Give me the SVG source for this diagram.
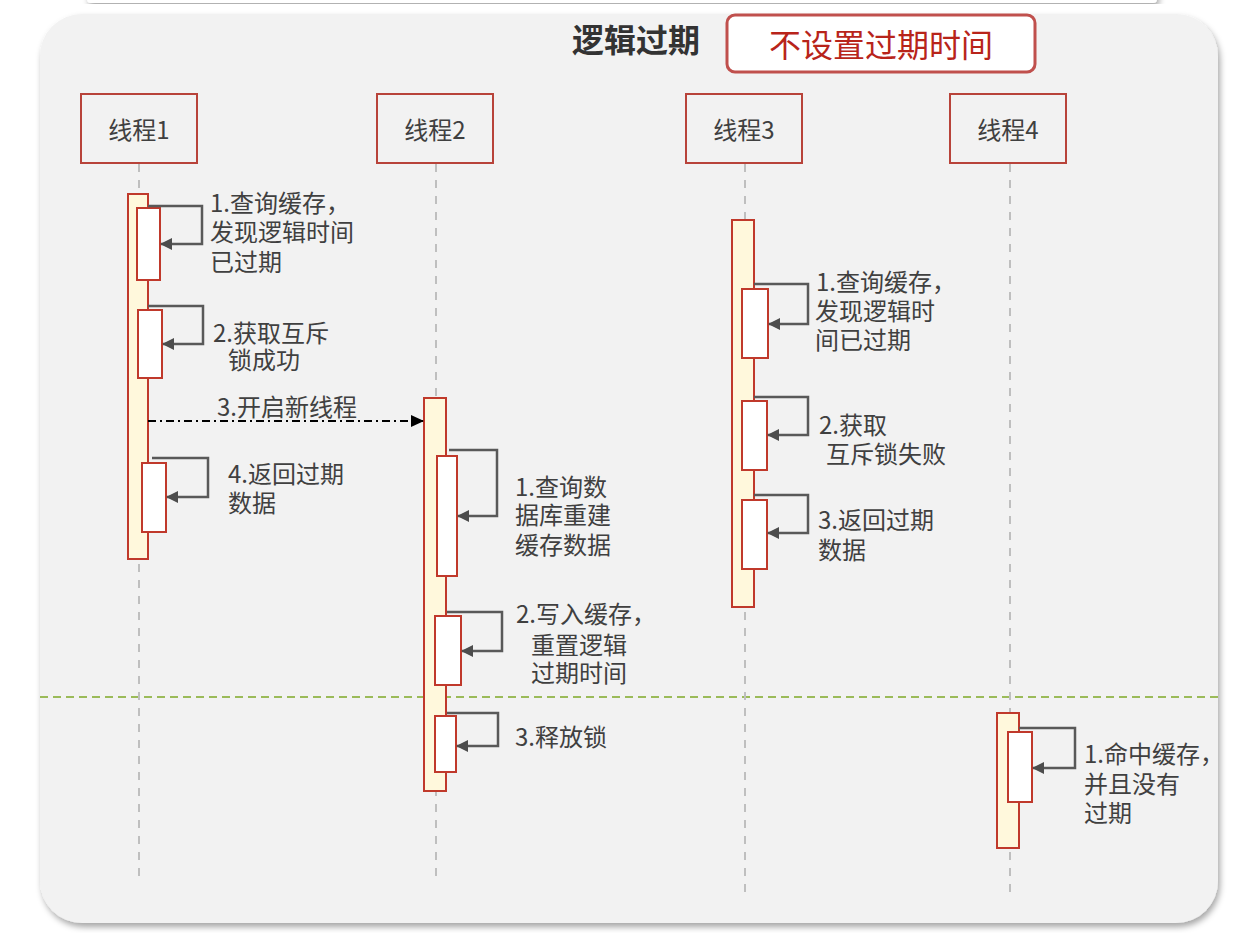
<svg xmlns="http://www.w3.org/2000/svg" width="1241" height="933" viewBox="0 0 1241 933">
<defs>
<filter id="sh" x="-5%" y="-5%" width="110%" height="110%">
<feDropShadow dx="2" dy="4" stdDeviation="3" flood-color="#000" flood-opacity="0.35"/>
</filter>
<marker id="ah" markerWidth="12" markerHeight="12" refX="11" refY="6" orient="auto" markerUnits="userSpaceOnUse">
<path d="M0,0 L12,6 L0,12 Z" fill="#4d4d4d"/>
</marker>
<marker id="ahb" markerWidth="13" markerHeight="12" refX="12" refY="6" orient="auto" markerUnits="userSpaceOnUse">
<path d="M0,0 L13,6 L0,12 Z" fill="#000"/>
</marker>
</defs>
<style>
text{font-family:"Noto Sans CJK SC","Liberation Sans",sans-serif;}
.lbl{font-size:24px;fill:#404040;}
.head{fill:none;stroke:#b8433a;stroke-width:2;}
.life{stroke:#bfbfbf;stroke-width:2;stroke-dasharray:8 8;fill:none;}
.bar{fill:#fff8dc;stroke:#c0392b;stroke-width:2;}
.box{fill:#fff;stroke:#c0392b;stroke-width:2;}
.self{fill:none;stroke:#595959;stroke-width:2.5;marker-end:url(#ah);}
</style>
<rect x="0" y="0" width="1241" height="933" fill="#fff"/>
<rect x="87" y="-12" width="1070" height="15" rx="4" fill="#fff" filter="url(#sh)"/>
<rect x="40" y="14" width="1178" height="909" rx="42" fill="#f2f2f2" filter="url(#sh)"/>

<g id="title">
<text x="636" y="52" font-size="32" font-weight="bold" fill="#333" text-anchor="middle">逻辑过期</text>
</g>
<g id="note">
<rect x="727" y="15" width="308" height="57" rx="8" fill="#fff" stroke="#c0504d" stroke-width="3"/>
<text x="881" y="57" font-size="32" fill="#b8241a" text-anchor="middle">不设置过期时间</text>
</g>

<line x1="40" y1="697" x2="1218" y2="697" stroke="#9bbb59" stroke-width="2" stroke-dasharray="8 5"/>

<g id="thread1">
<line class="life" x1="139" y1="164" x2="139" y2="882"/>
<rect class="head" x="81" y="94" width="116" height="69"/>
<text class="lbl" x="139" y="139" text-anchor="middle">线程1</text>
<rect class="bar" x="128" y="194" width="20" height="365"/>
<rect class="box" x="137" y="208" width="23" height="72"/>
<rect class="box" x="138" y="310" width="24" height="68"/>
<rect class="box" x="142" y="463" width="24" height="69"/>
</g>

<g id="thread2">
<line class="life" x1="436" y1="164" x2="436" y2="882"/>
<rect class="head" x="377" y="94" width="116" height="69"/>
<text class="lbl" x="435" y="139" text-anchor="middle">线程2</text>
<rect class="bar" x="424" y="398" width="22" height="393"/>
<rect class="box" x="437" y="456" width="20" height="120"/>
<rect class="box" x="435" y="616" width="26" height="69"/>
<rect class="box" x="435" y="716" width="21" height="56"/>
</g>

<g id="thread3">
<line class="life" x1="745" y1="164" x2="745" y2="898"/>
<rect class="head" x="686" y="94" width="116" height="69"/>
<text class="lbl" x="744" y="139" text-anchor="middle">线程3</text>
<rect class="bar" x="732" y="220" width="22" height="387"/>
<rect class="box" x="742" y="289" width="26" height="69"/>
<rect class="box" x="742" y="401" width="25" height="69"/>
<rect class="box" x="742" y="500" width="25" height="69"/>
</g>

<g id="thread4">
<line class="life" x1="1010" y1="164" x2="1010" y2="898"/>
<rect class="head" x="950" y="94" width="116" height="69"/>
<text class="lbl" x="1008" y="139" text-anchor="middle">线程4</text>
<rect class="bar" x="997" y="713" width="22" height="135"/>
<rect class="box" x="1008" y="732" width="24" height="70"/>
</g>

<g id="connectors">
<path class="self" d="M148,206 H202 V244 H161"/>
<path class="self" d="M148,306 H203 V344 H163"/>
<path class="self" d="M152,458 H208 V497 H167"/>
<path d="M148,421 H423" fill="none" stroke="#000" stroke-width="2" stroke-dasharray="8 4 2 4" marker-end="url(#ahb)"/>
<path class="self" d="M449,450 H497 V516 H458"/>
<path class="self" d="M447,612 H502 V651 H462"/>
<path class="self" d="M447,713 H498 V746 H457"/>
<path class="self" d="M754,284 H808 V324 H769"/>
<path class="self" d="M754,397 H808 V435 H768"/>
<path class="self" d="M754,495 H808 V533 H768"/>
<path class="self" d="M1019,728 H1075 V768 H1033"/>
</g>

<g id="labels">
<text class="lbl" x="210"><tspan x="210" y="212">1.查询缓存，</tspan><tspan x="210" y="241">发现逻辑时间</tspan><tspan x="210" y="271">已过期</tspan></text>
<text class="lbl"><tspan x="213" y="342">2.获取互斥</tspan><tspan x="228" y="369">锁成功</tspan></text>
<text class="lbl" x="217" y="416">3.开启新线程</text>
<text class="lbl"><tspan x="228" y="483">4.返回过期</tspan><tspan x="228" y="512">数据</tspan></text>
<text class="lbl"><tspan x="515" y="496">1.查询数</tspan><tspan x="515" y="524">据库重建</tspan><tspan x="515" y="554">缓存数据</tspan></text>
<text class="lbl"><tspan x="516" y="623">2.写入缓存，</tspan><tspan x="531" y="654">重置逻辑</tspan><tspan x="531" y="682">过期时间</tspan></text>
<text class="lbl" x="515" y="746">3.释放锁</text>
<text class="lbl"><tspan x="816" y="291">1.查询缓存，</tspan><tspan x="815" y="320">发现逻辑时</tspan><tspan x="815" y="349">间已过期</tspan></text>
<text class="lbl"><tspan x="819" y="434">2.获取</tspan><tspan x="826" y="463">互斥锁失败</tspan></text>
<text class="lbl"><tspan x="818" y="529">3.返回过期</tspan><tspan x="818" y="559">数据</tspan></text>
<text class="lbl"><tspan x="1084" y="763">1.命中缓存，</tspan><tspan x="1084" y="793">并且没有</tspan><tspan x="1084" y="822">过期</tspan></text>
</g>
</svg>
